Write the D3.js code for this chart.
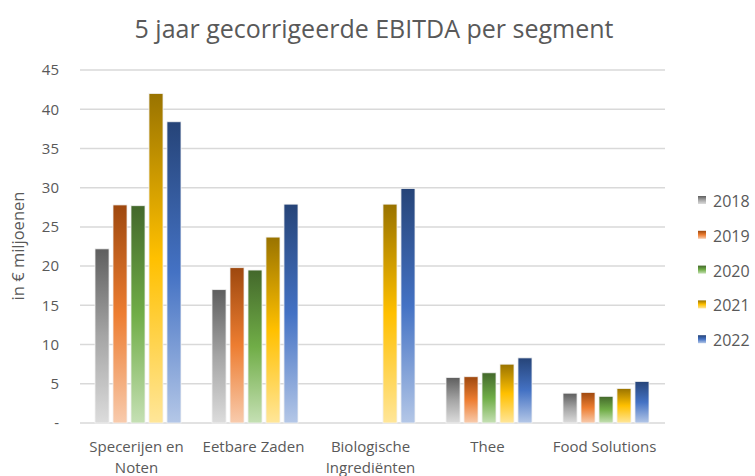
<!DOCTYPE html>
<html>
<head>
<meta charset="utf-8">
<script src="https://cdn.jsdelivr.net/npm/d3@7"></script>
<style>
  body { margin: 0; background: #fff; }
  text { font-family: "Open Sans", "Liberation Sans", sans-serif; fill: #595959; }
</style>
</head>
<body>
<svg id="chart" width="755" height="476"></svg>
<script>
const categories = [["Specerijen en", "Noten"], ["Eetbare Zaden"], ["Biologische", "Ingrediënten"], ["Thee"], ["Food Solutions"]];
const years = ["2018", "2019", "2020", "2021", "2022"];
const v2018 = [22.2, 17.0, null, 5.8, 3.8];
const v2019 = [27.8, 19.8, null, 5.9, 3.9];
const v2020 = [27.7, 19.5, null, 6.4, 3.4];
const v2021 = [42.0, 23.7, 27.9, 7.5, 4.4];
const v2022 = [38.4, 27.9, 29.9, 8.3, 5.3];
const yTicks = [0, 5, 10, 15, 20, 25, 30, 35, 40, 45];

const series = [v2018, v2019, v2020, v2021, v2022];
// shade (top), base, tint (bottom)
const colors = [
  ["#5e5e5e", "#a5a5a5", "#dcdcdc"],
  ["#9e480e", "#ed7d31", "#f8cbad"],
  ["#43682b", "#70ad47", "#c5e0b4"],
  ["#997300", "#ffc000", "#ffe699"],
  ["#264478", "#4472c4", "#b4c7e7"]
];

const svg = d3.select("#chart");
const defs = svg.append("defs");
colors.forEach((c, i) => {
  const g = defs.append("linearGradient").attr("id", "grad" + i)
    .attr("x1", 0).attr("y1", 0).attr("x2", 0).attr("y2", 1);
  g.append("stop").attr("offset", "0%").attr("stop-color", c[0]);
  g.append("stop").attr("offset", "50%").attr("stop-color", c[1]);
  g.append("stop").attr("offset", "100%").attr("stop-color", c[2]);
});

const plotL = 80, plotR = 665, plotT = 70, plotB = 423;
const y = d3.scaleLinear().domain([0, 45]).range([plotB, plotT]);
const x0 = d3.scaleBand().domain(d3.range(categories.length)).range([plotL, plotR]);
const x1 = d3.scaleBand().domain(d3.range(years.length)).range([15, x0.bandwidth() - 16]).paddingInner(0.22);

svg.append("text").attr("x", 374).attr("y", 38).attr("text-anchor", "middle")
  .style("font-size", "25px").text("5 jaar gecorrigeerde EBITDA per segment");

// gridlines
svg.append("g").selectAll("line").data(yTicks).join("line")
  .attr("x1", plotL).attr("x2", plotR)
  .attr("y1", d => y(d)).attr("y2", d => y(d))
  .attr("stroke", "#d9d9d9").attr("stroke-width", 1.5);

// y axis labels
const yAxis = svg.append("g").attr("transform", `translate(${plotL},0)`)
  .call(d3.axisLeft(y).tickValues(yTicks).tickSize(0).tickPadding(21)
    .tickFormat(d => d === 0 ? "-" : d));
yAxis.select(".domain").remove();
yAxis.selectAll("text").style("font-size", "15px").attr("font-family", null).attr("fill", "#595959");

svg.append("text").attr("transform", "translate(24,246) rotate(-90)")
  .attr("text-anchor", "middle").style("font-size", "16.5px").text("in € miljoenen");

// bars
series.forEach((vals, si) => {
  svg.append("g").selectAll("rect")
    .data(vals.map((v, ci) => ({ v, ci })).filter(d => d.v != null))
    .join("rect")
    .attr("x", d => x0(d.ci) + x1(si))
    .attr("width", x1.bandwidth())
    .attr("y", d => y(d.v))
    .attr("height", d => y(0) - y(d.v))
    .attr("fill", `url(#grad${si})`)
    .attr("stroke", "#f2f2f2").attr("stroke-width", 0.8);
});

// x labels
const xl = svg.append("g").selectAll("text").data(categories).join("text")
  .attr("text-anchor", "middle").style("font-size", "15px")
  .attr("x", (d, i) => x0(i) + x0.bandwidth() / 2 - 2).attr("y", 452);
xl.selectAll("tspan").data(d => d).join("tspan")
  .attr("x", function () { return d3.select(this.parentNode).attr("x"); })
  .attr("dy", (d, i) => i === 0 ? 0 : 21).text(d => d);

// legend
const leg = svg.append("g").selectAll("g").data(years).join("g")
  .attr("transform", (d, i) => `translate(698,${201 + i * 34.8})`);
leg.append("rect").attr("x", 0).attr("y", -5).attr("width", 8).attr("height", 8)
  .attr("fill", (d, i) => `url(#grad${i})`);
leg.append("text").attr("x", 15).attr("y", 6).style("font-size", "16px").text(d => d);
</script>
</body>
</html>
